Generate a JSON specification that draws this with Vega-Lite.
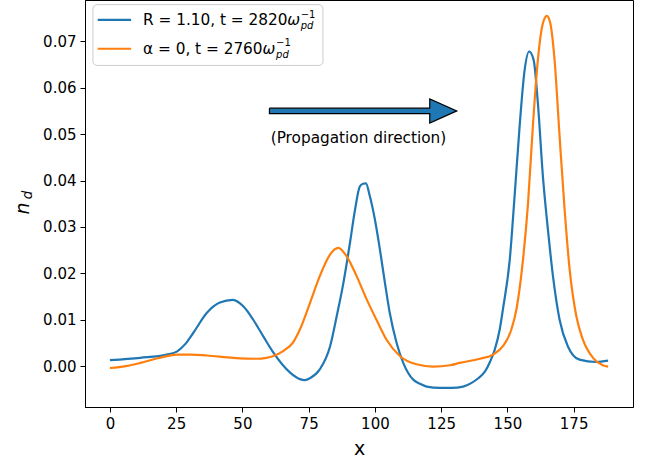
{
  "$schema": "https://vega.github.io/schema/vega-lite/v6.json",
  "width": 548,
  "height": 407,
  "autosize": {"type": "none"},
  "padding": {"left": 85, "top": 0, "right": 27, "bottom": 56},
  "background": "white",
  "config": {
    "font": "DejaVu Sans",
    "view": {"stroke": "black", "strokeWidth": 1},
    "axis": {"grid": false, "domainColor": "black", "tickColor": "black", "labelColor": "black", "titleColor": "black", "labelFont": "DejaVu Sans", "titleFont": "DejaVu Sans", "labelFontSize": 15, "tickSize": 5, "labelPadding": 4, "titleFontWeight": "normal", "titleFontSize": 19}
  },
  "datasets": {
    "curves": [
      {"x": 0, "y": 0.0013, "s": "R"},
      {"x": 11.5, "y": 0.0018, "s": "R"},
      {"x": 21.5, "y": 0.0025, "s": "R"},
      {"x": 25.4, "y": 0.0032, "s": "R"},
      {"x": 28.5, "y": 0.0048, "s": "R"},
      {"x": 31.5, "y": 0.0072, "s": "R"},
      {"x": 36.6, "y": 0.0115, "s": "R"},
      {"x": 41.5, "y": 0.0137, "s": "R"},
      {"x": 46.4, "y": 0.0143, "s": "R"},
      {"x": 50.5, "y": 0.0128, "s": "R"},
      {"x": 54.1, "y": 0.0100, "s": "R"},
      {"x": 58.0, "y": 0.0063, "s": "R"},
      {"x": 61.7, "y": 0.0029, "s": "R"},
      {"x": 68.0, "y": -0.0014, "s": "R"},
      {"x": 71.7, "y": -0.0028, "s": "R"},
      {"x": 73.6, "y": -0.0030, "s": "R"},
      {"x": 75.5, "y": -0.0026, "s": "R"},
      {"x": 79.2, "y": -0.0007, "s": "R"},
      {"x": 83.1, "y": 0.0043, "s": "R"},
      {"x": 85.6, "y": 0.0108, "s": "R"},
      {"x": 88.1, "y": 0.0179, "s": "R"},
      {"x": 90.6, "y": 0.0266, "s": "R"},
      {"x": 92.5, "y": 0.0337, "s": "R"},
      {"x": 94.3, "y": 0.0387, "s": "R"},
      {"x": 95.5, "y": 0.0393, "s": "R"},
      {"x": 96.6, "y": 0.0394, "s": "R"},
      {"x": 98.1, "y": 0.0366, "s": "R"},
      {"x": 100.0, "y": 0.0316, "s": "R"},
      {"x": 101.9, "y": 0.0251, "s": "R"},
      {"x": 103.8, "y": 0.0179, "s": "R"},
      {"x": 105.6, "y": 0.0115, "s": "R"},
      {"x": 108.2, "y": 0.0050, "s": "R"},
      {"x": 110.7, "y": 0.0007, "s": "R"},
      {"x": 114.4, "y": -0.0029, "s": "R"},
      {"x": 117.0, "y": -0.0038, "s": "R"},
      {"x": 119.5, "y": -0.0044, "s": "R"},
      {"x": 124.5, "y": -0.0047, "s": "R"},
      {"x": 129.0, "y": -0.0047, "s": "R"},
      {"x": 133.3, "y": -0.0044, "s": "R"},
      {"x": 136.5, "y": -0.0036, "s": "R"},
      {"x": 139.0, "y": -0.0026, "s": "R"},
      {"x": 141.5, "y": -0.0012, "s": "R"},
      {"x": 143.5, "y": 0.0010, "s": "R"},
      {"x": 145.2, "y": 0.0035, "s": "R"},
      {"x": 147.1, "y": 0.0079, "s": "R"},
      {"x": 148.3, "y": 0.0122, "s": "R"},
      {"x": 150.9, "y": 0.0230, "s": "R"},
      {"x": 152.8, "y": 0.0373, "s": "R"},
      {"x": 154.6, "y": 0.0516, "s": "R"},
      {"x": 156.5, "y": 0.0638, "s": "R"},
      {"x": 158.2, "y": 0.0678, "s": "R"},
      {"x": 159.9, "y": 0.0660, "s": "R"},
      {"x": 161.5, "y": 0.0567, "s": "R"},
      {"x": 163.4, "y": 0.0409, "s": "R"},
      {"x": 165.3, "y": 0.0294, "s": "R"},
      {"x": 167.2, "y": 0.0194, "s": "R"},
      {"x": 169.7, "y": 0.0100, "s": "R"},
      {"x": 172.8, "y": 0.0043, "s": "R"},
      {"x": 177.2, "y": 0.0014, "s": "R"},
      {"x": 183.5, "y": 0.0009, "s": "R"},
      {"x": 188.0, "y": 0.0012, "s": "R"},
      {"x": 0, "y": -0.0004, "s": "A"},
      {"x": 6, "y": 0.0000, "s": "A"},
      {"x": 11.5, "y": 0.0007, "s": "A"},
      {"x": 18, "y": 0.0017, "s": "A"},
      {"x": 25.3, "y": 0.0025, "s": "A"},
      {"x": 30.5, "y": 0.0025, "s": "A"},
      {"x": 36.6, "y": 0.0023, "s": "A"},
      {"x": 46.6, "y": 0.0018, "s": "A"},
      {"x": 55.4, "y": 0.0016, "s": "A"},
      {"x": 59.0, "y": 0.0018, "s": "A"},
      {"x": 61.7, "y": 0.0022, "s": "A"},
      {"x": 65.5, "y": 0.0033, "s": "A"},
      {"x": 69.2, "y": 0.0052, "s": "A"},
      {"x": 71.7, "y": 0.0079, "s": "A"},
      {"x": 75.5, "y": 0.0136, "s": "A"},
      {"x": 79.2, "y": 0.0194, "s": "A"},
      {"x": 83.0, "y": 0.0240, "s": "A"},
      {"x": 86.2, "y": 0.0255, "s": "A"},
      {"x": 89.3, "y": 0.0237, "s": "A"},
      {"x": 93.1, "y": 0.0194, "s": "A"},
      {"x": 96.9, "y": 0.0144, "s": "A"},
      {"x": 100.6, "y": 0.0100, "s": "A"},
      {"x": 104.4, "y": 0.0057, "s": "A"},
      {"x": 109.4, "y": 0.0022, "s": "A"},
      {"x": 115.7, "y": 0.0004, "s": "A"},
      {"x": 122.0, "y": -0.0001, "s": "A"},
      {"x": 128.3, "y": 0.0002, "s": "A"},
      {"x": 132.0, "y": 0.0007, "s": "A"},
      {"x": 139.6, "y": 0.0016, "s": "A"},
      {"x": 144.6, "y": 0.0025, "s": "A"},
      {"x": 148.3, "y": 0.0043, "s": "A"},
      {"x": 151.5, "y": 0.0079, "s": "A"},
      {"x": 153.4, "y": 0.0122, "s": "A"},
      {"x": 155.9, "y": 0.0230, "s": "A"},
      {"x": 157.8, "y": 0.0352, "s": "A"},
      {"x": 159.6, "y": 0.0516, "s": "A"},
      {"x": 161.5, "y": 0.0660, "s": "A"},
      {"x": 163.4, "y": 0.0739, "s": "A"},
      {"x": 164.9, "y": 0.0755, "s": "A"},
      {"x": 166.2, "y": 0.0739, "s": "A"},
      {"x": 167.8, "y": 0.0660, "s": "A"},
      {"x": 169.7, "y": 0.0495, "s": "A"},
      {"x": 171.6, "y": 0.0337, "s": "A"},
      {"x": 173.5, "y": 0.0208, "s": "A"},
      {"x": 176.0, "y": 0.0108, "s": "A"},
      {"x": 178.5, "y": 0.0057, "s": "A"},
      {"x": 182.3, "y": 0.0018, "s": "A"},
      {"x": 186.0, "y": 0.0002, "s": "A"},
      {"x": 188.0, "y": -0.0001, "s": "A"}
    ],
    "arrow": [
      {"i": 1, "x": 60.2, "y": 0.0556},
      {"i": 2, "x": 120.7, "y": 0.0556},
      {"i": 3, "x": 120.7, "y": 0.0576},
      {"i": 4, "x": 130.9, "y": 0.0550},
      {"i": 5, "x": 120.7, "y": 0.0524},
      {"i": 6, "x": 120.7, "y": 0.0544},
      {"i": 7, "x": 60.2, "y": 0.0544},
      {"i": 8, "x": 60.2, "y": 0.0556}
    ],
    "note": [{"x": 93.8, "y": 0.0492, "t": "(Propagation direction)"}],
    "legbox": [{"x": -6.4, "x2": 80.4, "y": 0.0779, "y2": 0.0648}],
    "leglines": [
      {"x": -4.6, "x2": 8.0, "y": 0.0746, "s": "R"},
      {"x": -4.6, "x2": 8.0, "y": 0.0684, "s": "A"}
    ],
    "legtext": [
      {"x": 12.5, "y": 0.0745, "t": "R = 1.10, t = 2820"},
      {"x": 12.5, "y": 0.0684, "t": "α = 0, t = 2760"}
    ],
    "legomega": [
      {"x": 66.9, "y": 0.0745, "t": "ω"},
      {"x": 57.6, "y": 0.0684, "t": "ω"}
    ],
    "legsup": [
      {"x": 72.0, "y": 0.07575, "t": "−1"},
      {"x": 62.7, "y": 0.06965, "t": "−1"}
    ],
    "legsub": [
      {"x": 72.0, "y": 0.0732, "t": "pd"},
      {"x": 62.7, "y": 0.0671, "t": "pd"}
    ],
    "ysub": [{"x": -30.9, "y": 0.0369, "t": "d"}]
  },
  "layer": [
    {
      "data": {"name": "curves"},
      "mark": {"type": "line", "strokeWidth": 2.2, "interpolate": "monotone", "clip": true},
      "encoding": {
        "x": {"field": "x", "type": "quantitative", "scale": {"domain": [-9.4, 197.4], "nice": false, "zero": false},
              "axis": {"values": [0, 25, 50, 75, 100, 125, 150, 175], "title": "x", "titlePadding": 8}},
        "y": {"field": "y", "type": "quantitative", "scale": {"domain": [-0.0088, 0.0789], "nice": false, "zero": false},
              "axis": {"values": [0, 0.01, 0.02, 0.03, 0.04, 0.05, 0.06, 0.07], "format": ".2f", "title": "n", "titleFontStyle": "italic", "titlePadding": 10, "titleY": 208}},
        "color": {"field": "s", "type": "nominal", "scale": {"domain": ["R", "A"], "range": ["#1f77b4", "#ff7f0e"]}, "legend": null}
      }
    },
    {
      "data": {"name": "arrow"},
      "mark": {"type": "line", "fill": "#1f77b4", "stroke": "black", "strokeWidth": 1.2, "strokeJoin": "miter"},
      "encoding": {
        "x": {"field": "x", "type": "quantitative"},
        "y": {"field": "y", "type": "quantitative"},
        "order": {"field": "i", "type": "quantitative"}
      }
    },
    {
      "data": {"name": "note"},
      "mark": {"type": "text", "font": "DejaVu Sans", "fontSize": 15.3, "align": "center", "baseline": "middle", "color": "black"},
      "encoding": {
        "x": {"field": "x", "type": "quantitative"},
        "y": {"field": "y", "type": "quantitative"},
        "text": {"field": "t"}
      }
    },
    {
      "data": {"name": "legbox"},
      "mark": {"type": "rect", "fill": "white", "fillOpacity": 0.8, "stroke": "#cccccc", "strokeWidth": 1, "cornerRadius": 4},
      "encoding": {
        "x": {"field": "x", "type": "quantitative"},
        "x2": {"field": "x2"},
        "y": {"field": "y", "type": "quantitative"},
        "y2": {"field": "y2"}
      }
    },
    {
      "data": {"name": "leglines"},
      "mark": {"type": "rule", "strokeWidth": 2.2},
      "encoding": {
        "x": {"field": "x", "type": "quantitative"},
        "x2": {"field": "x2"},
        "y": {"field": "y", "type": "quantitative"},
        "color": {"field": "s", "type": "nominal", "legend": null}
      }
    },
    {
      "data": {"name": "legtext"},
      "mark": {"type": "text", "font": "DejaVu Sans", "fontSize": 15.3, "align": "left", "baseline": "middle", "color": "black"},
      "encoding": {
        "x": {"field": "x", "type": "quantitative"},
        "y": {"field": "y", "type": "quantitative"},
        "text": {"field": "t"}
      }
    },
    {
      "data": {"name": "legomega"},
      "mark": {"type": "text", "font": "DejaVu Sans", "fontSize": 15.3, "fontStyle": "italic", "align": "left", "baseline": "middle", "color": "black"},
      "encoding": {
        "x": {"field": "x", "type": "quantitative"},
        "y": {"field": "y", "type": "quantitative"},
        "text": {"field": "t"}
      }
    },
    {
      "data": {"name": "legsup"},
      "mark": {"type": "text", "font": "DejaVu Sans", "fontSize": 10, "align": "left", "baseline": "middle", "color": "black"},
      "encoding": {
        "x": {"field": "x", "type": "quantitative"},
        "y": {"field": "y", "type": "quantitative"},
        "text": {"field": "t"}
      }
    },
    {
      "data": {"name": "legsub"},
      "mark": {"type": "text", "font": "DejaVu Sans", "fontSize": 10, "fontStyle": "italic", "align": "left", "baseline": "middle", "color": "black"},
      "encoding": {
        "x": {"field": "x", "type": "quantitative"},
        "y": {"field": "y", "type": "quantitative"},
        "text": {"field": "t"}
      }
    },
    {
      "data": {"name": "ysub"},
      "mark": {"type": "text", "font": "DejaVu Sans", "fontSize": 13.5, "fontStyle": "italic", "angle": 270, "align": "center", "baseline": "middle", "color": "black"},
      "encoding": {
        "x": {"field": "x", "type": "quantitative"},
        "y": {"field": "y", "type": "quantitative"},
        "text": {"field": "t"}
      }
    }
  ]
}
